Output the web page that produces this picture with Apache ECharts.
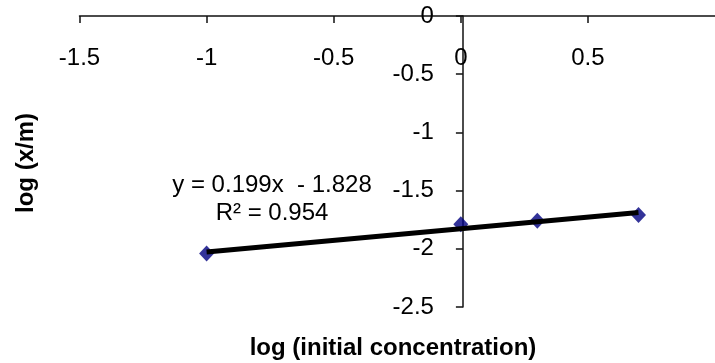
<!DOCTYPE html>
<html>
<head>
<meta charset="utf-8">
<script src="https://cdn.jsdelivr.net/npm/echarts@6/dist/echarts.min.js"></script>
<style>
  html, body { margin: 0; padding: 0; background: #fff; }
  #main { width: 715px; height: 363px; }
</style>
</head>
<body>
<div id="main"></div>
<script>
// log of initial concentration vs log(x/m)
var logConc = [-1, 0, 0.301, 0.699];
var logXm = [-2.04, -1.79, -1.76, -1.71];
// trendline from the fitted equation shown on the chart
var trendSlope = 0.199;
var trendIntercept = -1.828;
var trendX = [-1, 0.699];
var equationText = ['y = 0.199x  - 1.828', 'R\u00b2 = 0.954'];

var FONT = '"Liberation Sans", Arial, sans-serif';

window.onload = function () {
    var myChart = echarts.init(document.getElementById('main'));

    var gridLeft = 79.5;
    var gridWidth = 639;
    var xMin = -1.5, xMax = 1;
    // y axis crosses the x axis at x = 0
    var yAxisShift = -gridWidth * (0 - xMin) / (xMax - xMin);

    var points = logConc.map(function (x, i) {
        return [x, logXm[i]];
    });
    var trendPoints = trendX.map(function (x) {
        return [x, trendSlope * x + trendIntercept];
    });

    var option = {
        backgroundColor: '#fff',
        animation: false,
        grid: {
            left: gridLeft,
            top: 16,
            width: gridWidth,
            height: 291,
            containLabel: false
        },
        xAxis: {
            type: 'value',
            position: 'top',
            min: xMin,
            max: xMax,
            interval: 0.5,
            axisLine: { onZero: false, lineStyle: { color: '#111', width: 1.5 } },
            axisTick: { inside: true, length: 7, lineStyle: { color: '#111', width: 1.5 } },
            axisLabel: {
                inside: true,
                margin: 30,
                showMaxLabel: false,
                color: '#000',
                fontFamily: FONT,
                fontSize: 24
            },
            splitLine: { show: false }
        },
        yAxis: {
            type: 'value',
            position: 'left',
            offset: yAxisShift,
            min: -2.5,
            max: 0,
            interval: 0.5,
            axisLine: { onZero: false, lineStyle: { color: '#111', width: 1.5 } },
            axisTick: { length: 7, lineStyle: { color: '#111', width: 1.5 } },
            axisLabel: {
                margin: 29,
                color: '#000',
                fontFamily: FONT,
                fontSize: 24
            },
            splitLine: { show: false }
        },
        series: [
            {
                type: 'scatter',
                data: points,
                symbol: 'diamond',
                symbolSize: [15, 16],
                itemStyle: { color: '#000080' }
            },
            {
                type: 'line',
                data: trendPoints,
                symbol: 'none',
                lineStyle: { color: '#000', width: 5 }
            }
        ],
        graphic: [
            {
                type: 'text',
                x: 272,
                y: 171,
                style: {
                    text: equationText.join('\n'),
                    textAlign: 'center',
                    fill: '#000',
                    font: '24px ' + FONT,
                    lineHeight: 28
                }
            },
            {
                type: 'text',
                x: 393,
                y: 348,
                style: {
                    text: 'log (initial concentration)',
                    textAlign: 'center',
                    textVerticalAlign: 'middle',
                    fill: '#000',
                    font: 'bold 24px ' + FONT
                }
            },
            {
                type: 'text',
                x: 26,
                y: 163,
                rotation: Math.PI / 2,
                style: {
                    text: 'log (x/m)',
                    textAlign: 'center',
                    textVerticalAlign: 'middle',
                    fill: '#000',
                    font: 'bold 24px ' + FONT
                }
            }
        ]
    };

    myChart.setOption(option);
};
</script>
</body>
</html>
